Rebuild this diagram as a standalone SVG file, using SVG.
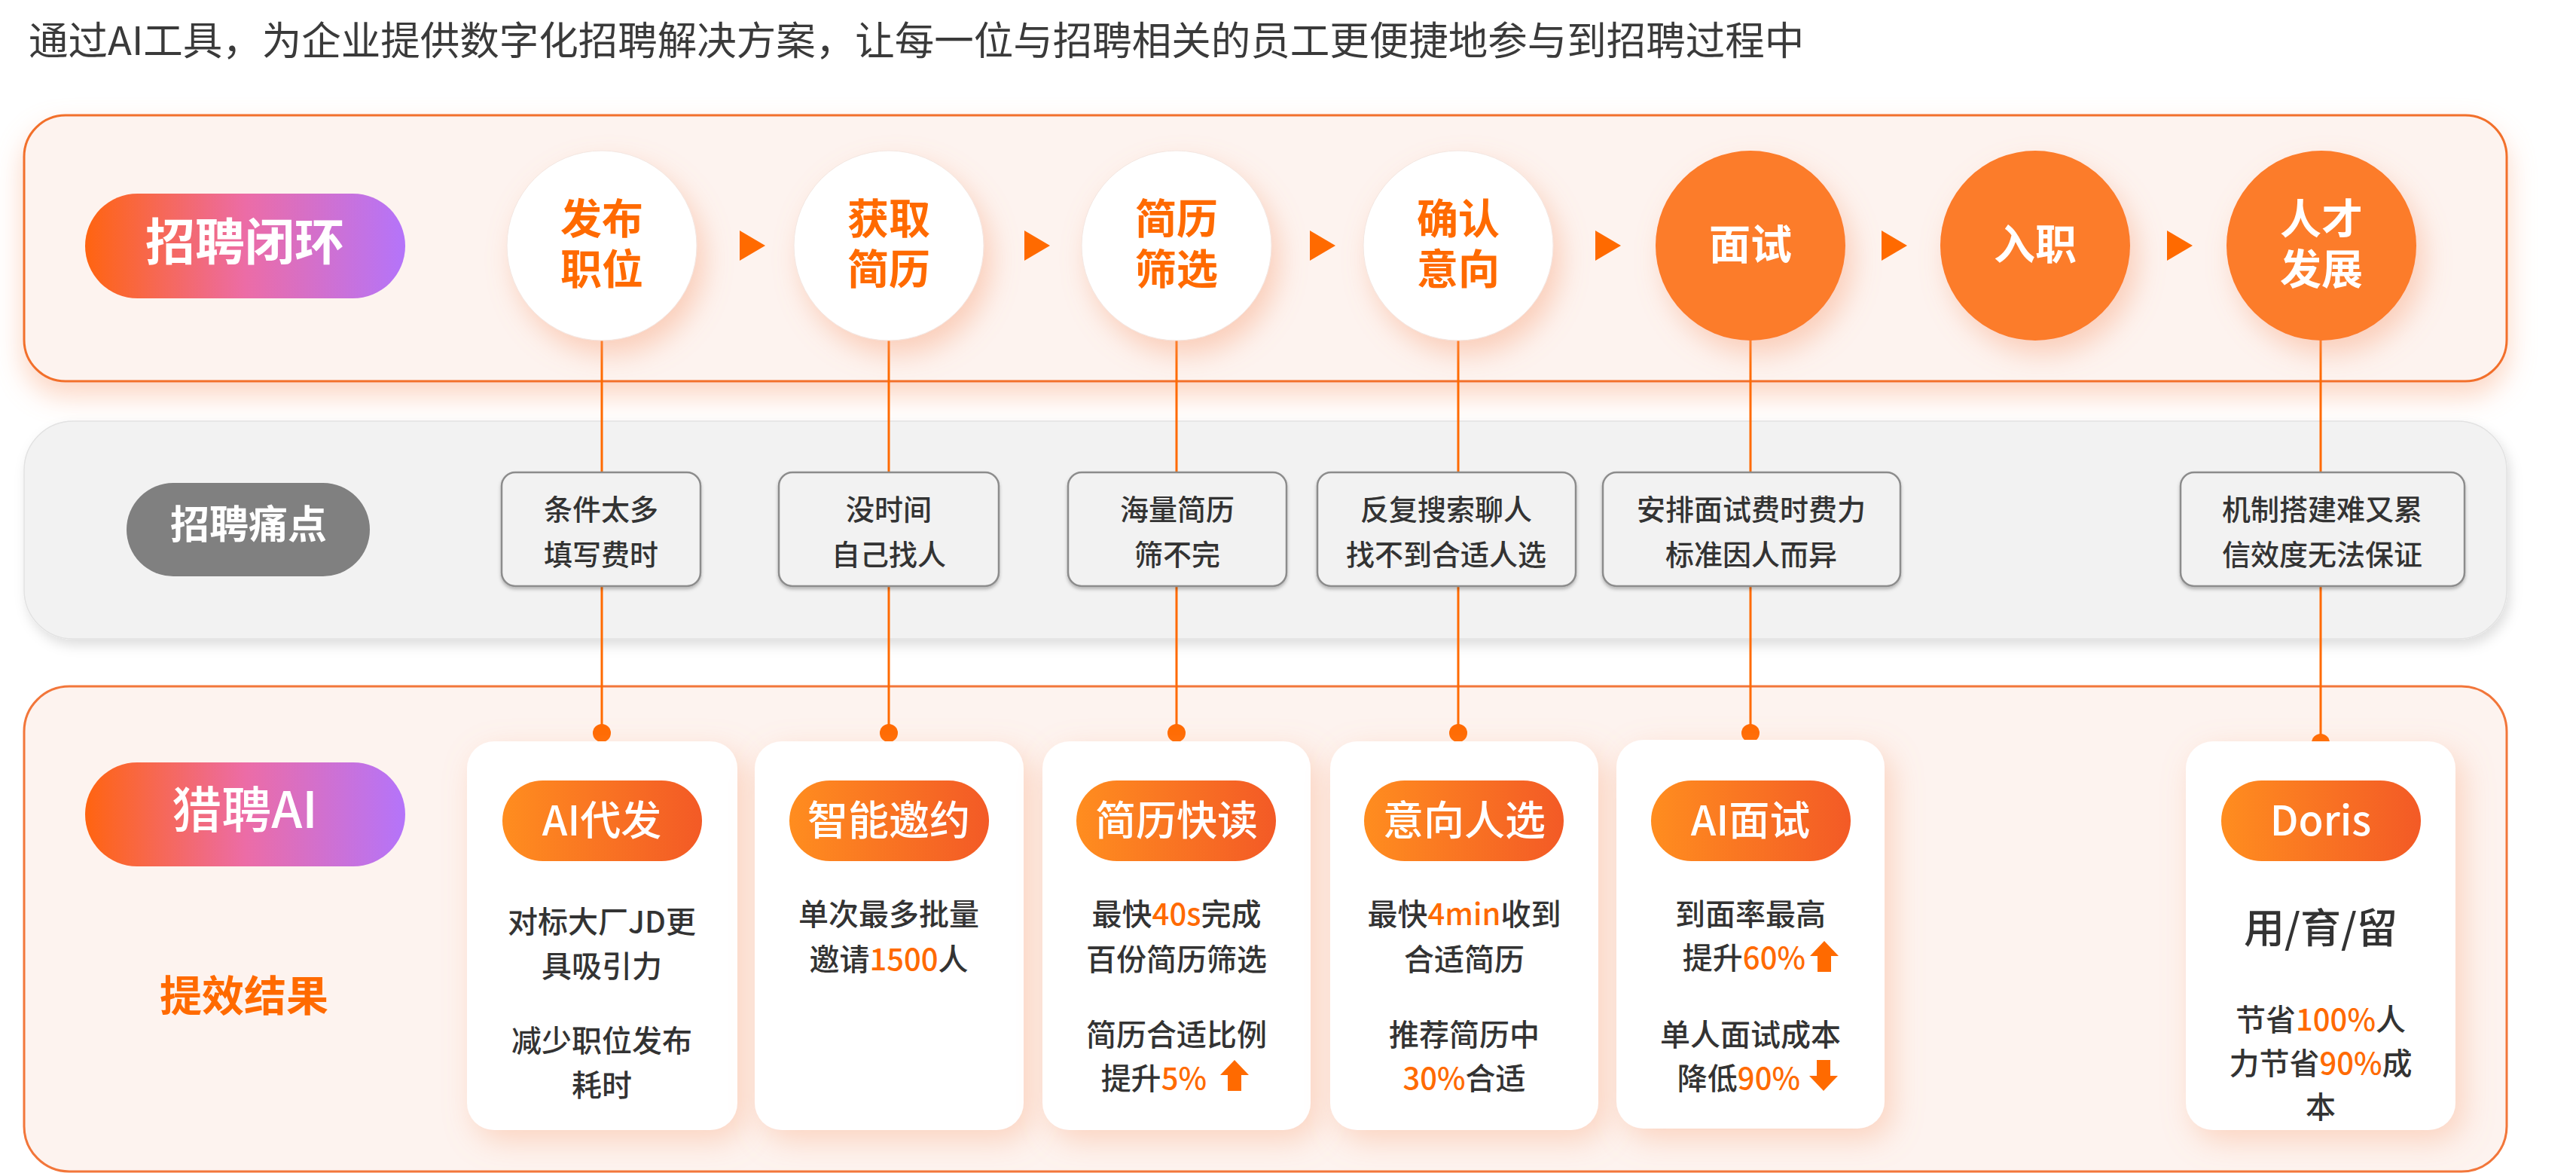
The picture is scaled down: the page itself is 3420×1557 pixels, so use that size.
<svg xmlns="http://www.w3.org/2000/svg" width="3420" height="1557" viewBox="0 0 3420 1557">
<defs>
<style>
text{font-family:"Noto Sans CJK SC","Noto Sans",sans-serif;}
.title{font-size:52.5px;fill:#3a3a3a;}
.ctext{font-size:55px;font-weight:700;text-anchor:middle;}
.o{fill:#ff6a00;}
.w{fill:#ffffff;}
.pain{font-size:38px;font-weight:500;fill:#333333;text-anchor:middle;}
.body{font-size:40px;font-weight:500;fill:#333333;text-anchor:middle;}
.end{text-anchor:end;}
.ptitle{font-size:54px;fill:#ffffff;text-anchor:middle;font-weight:500;}
.box{fill:#f2f2f2;stroke:#8c8c8c;stroke-width:2.5;}
.card{fill:#ffffff;}
.conn{stroke:#ff6a00;stroke-width:3;fill:none;}
.dot{fill:#ff6a00;}
.tri{fill:#ff6a00;}
.ocirc{fill:#fc7b2c;}
.wcirc{fill:#ffffff;stroke:#f3e6e0;stroke-width:1;}
.cardpill{fill:url(#gCard);}
</style>
<linearGradient id="gPill" x1="0" y1="0" x2="1" y2="0">
<stop offset="0" stop-color="#ff6410"/>
<stop offset="0.5" stop-color="#ec6ca6"/>
<stop offset="1" stop-color="#b474fa"/>
</linearGradient>
<linearGradient id="gCard" x1="0" y1="0" x2="1" y2="0">
<stop offset="0" stop-color="#ff8d1f"/>
<stop offset="1" stop-color="#f35a26"/>
</linearGradient>
<filter id="fPanel" x="-5%" y="-20%" width="110%" height="150%">
<feDropShadow dx="0" dy="18" stdDeviation="18" flood-color="#f9a57c" flood-opacity="0.45"/>
</filter>
<filter id="fGray" x="-5%" y="-20%" width="110%" height="150%">
<feDropShadow dx="4" dy="8" stdDeviation="8" flood-color="#000000" flood-opacity="0.13"/>
</filter>
<filter id="fCircle" x="-40%" y="-40%" width="190%" height="190%">
<feDropShadow dx="10" dy="18" stdDeviation="18" flood-color="#f8a278" flood-opacity="0.45"/>
</filter>
<filter id="fCard" x="-30%" y="-20%" width="170%" height="150%">
<feDropShadow dx="10" dy="14" stdDeviation="20" flood-color="#f8a278" flood-opacity="0.40"/>
</filter>
<filter id="fBox" x="-10%" y="-10%" width="120%" height="130%">
<feDropShadow dx="0" dy="3" stdDeviation="2" flood-color="#000000" flood-opacity="0.25"/>
</filter>
</defs>

<rect x="0" y="0" width="3420" height="1557" fill="#ffffff"/>

<g id="title">
<text class="title" x="38" y="73">通过AI工具，为企业提供数字化招聘解决方案，让每一位与招聘相关的员工更便捷地参与到招聘过程中</text>
</g>

<g id="panels">
<rect id="panel-top" x="32" y="153" width="3296" height="353" rx="55" fill="#fdf3ef" stroke="#f26f2c" stroke-width="3" filter="url(#fPanel)"/>
<rect id="panel-mid" x="32" y="559" width="3296" height="289" rx="65" fill="#f2f2f2" stroke="#e2e2e2" stroke-width="1.5" filter="url(#fGray)"/>
<rect id="panel-bottom" x="32" y="911" width="3296" height="644" rx="60" fill="#fdf3ef" stroke="#f2763a" stroke-width="3"/>
</g>

<g id="labels">
<g id="label-loop">
<rect x="113" y="257" width="425" height="139" rx="69.5" fill="url(#gPill)"/>
<text x="325" y="345" font-size="66" font-weight="700" fill="#ffffff" text-anchor="middle">招聘闭环</text>
</g>
<g id="label-pain">
<rect x="168" y="641" width="323" height="124" rx="62" fill="#808080"/>
<text x="330" y="715" font-size="52" font-weight="700" fill="#ffffff" text-anchor="middle">招聘痛点</text>
</g>
<g id="label-ai">
<rect x="113" y="1012" width="425" height="138" rx="69" fill="url(#gPill)"/>
<text x="325" y="1099" font-size="66" font-weight="500" fill="#ffffff" text-anchor="middle">猎聘AI</text>
</g>
<g id="label-result">
<text x="324" y="1342" font-size="56" font-weight="700" fill="#ff6a00" text-anchor="middle">提效结果</text>
</g>
</g>

<g id="connectors">
<line class="conn" x1="799" y1="440" x2="799" y2="973"/>
<line class="conn" x1="1180" y1="440" x2="1180" y2="973"/>
<line class="conn" x1="1562" y1="440" x2="1562" y2="973"/>
<line class="conn" x1="1936" y1="440" x2="1936" y2="973"/>
<line class="conn" x1="2324" y1="440" x2="2324" y2="973"/>
<line class="conn" x1="3081" y1="440" x2="3081" y2="984"/>
<polygon class="tri" points="982,306 1016,326 982,346"/>
<polygon class="tri" points="1360,306 1394,326 1360,346"/>
<polygon class="tri" points="1739,306 1773,326 1739,346"/>
<polygon class="tri" points="2118,306 2152,326 2118,346"/>
<polygon class="tri" points="2498,306 2532,326 2498,346"/>
<polygon class="tri" points="2877,306 2911,326 2877,346"/>
<circle class="dot" cx="799" cy="973" r="12"/>
<circle class="dot" cx="1180" cy="973" r="12"/>
<circle class="dot" cx="1562" cy="973" r="12"/>
<circle class="dot" cx="1936" cy="973" r="12"/>
<circle class="dot" cx="2324" cy="973" r="12"/>
<circle class="dot" cx="3081" cy="986" r="12"/>
</g>

<g id="step-1">
<circle class="wcirc" cx="799" cy="326" r="126" filter="url(#fCircle)"/>
<text class="ctext o" x="799" y="310">发布<tspan x="799" dy="67">职位</tspan></text>
</g>
<g id="step-2">
<circle class="wcirc" cx="1180" cy="326" r="126" filter="url(#fCircle)"/>
<text class="ctext o" x="1180" y="310">获取<tspan x="1180" dy="67">简历</tspan></text>
</g>
<g id="step-3">
<circle class="wcirc" cx="1562" cy="326" r="126" filter="url(#fCircle)"/>
<text class="ctext o" x="1562" y="310">简历<tspan x="1562" dy="67">筛选</tspan></text>
</g>
<g id="step-4">
<circle class="wcirc" cx="1936" cy="326" r="126" filter="url(#fCircle)"/>
<text class="ctext o" x="1936" y="310">确认<tspan x="1936" dy="67">意向</tspan></text>
</g>
<g id="step-5">
<circle class="ocirc" cx="2324" cy="326" r="126" filter="url(#fCircle)"/>
<text class="ctext w" x="2324" y="344" font-weight="500">面试</text>
</g>
<g id="step-6">
<circle class="ocirc" cx="2702" cy="326" r="126" filter="url(#fCircle)"/>
<text class="ctext w" x="2702" y="344" font-weight="500">入职</text>
</g>
<g id="step-7">
<circle class="ocirc" cx="3082" cy="326" r="126" filter="url(#fCircle)"/>
<text class="ctext w" x="3082" y="310" font-weight="500">人才<tspan x="3082" dy="67">发展</tspan></text>
</g>

<g id="pain-1">
<rect class="box" x="666" y="627" width="264" height="151" rx="18" filter="url(#fBox)"/>
<text class="pain" x="798" y="690">条件太多</text>
<text class="pain" x="798" y="750">填写费时</text>
</g>
<g id="pain-2">
<rect class="box" x="1034" y="627" width="292" height="151" rx="18" filter="url(#fBox)"/>
<text class="pain" x="1180" y="690">没时间</text>
<text class="pain" x="1180" y="750">自己找人</text>
</g>
<g id="pain-3">
<rect class="box" x="1418" y="627" width="290" height="151" rx="18" filter="url(#fBox)"/>
<text class="pain" x="1563" y="690">海量简历</text>
<text class="pain" x="1563" y="750">筛不完</text>
</g>
<g id="pain-4">
<rect class="box" x="1749" y="627" width="343" height="151" rx="18" filter="url(#fBox)"/>
<text class="pain" x="1920" y="690">反复搜索聊人</text>
<text class="pain" x="1920" y="750">找不到合适人选</text>
</g>
<g id="pain-5">
<rect class="box" x="2128" y="627" width="395" height="151" rx="18" filter="url(#fBox)"/>
<text class="pain" x="2325" y="690">安排面试费时费力</text>
<text class="pain" x="2325" y="750">标准因人而异</text>
</g>
<g id="pain-6">
<rect class="box" x="2895" y="627" width="377" height="151" rx="18" filter="url(#fBox)"/>
<text class="pain" x="3083" y="690">机制搭建难又累</text>
<text class="pain" x="3083" y="750">信效度无法保证</text>
</g>

<g id="card-1">
<rect class="card" x="620" y="984" width="359" height="516" rx="36" filter="url(#fCard)"/>
<rect class="cardpill" x="667" y="1036" width="265" height="107" rx="53.5"/>
<text class="ptitle" x="799" y="1109">AI代发</text>
<text class="body" x="799" y="1238">对标大厂JD更</text>
<text class="body" x="799" y="1297">具吸引力</text>
<text class="body" x="799" y="1396">减少职位发布</text>
<text class="body" x="799" y="1455">耗时</text>
</g>
<g id="card-2">
<rect class="card" x="1002" y="984" width="357" height="516" rx="36" filter="url(#fCard)"/>
<rect class="cardpill" x="1048" y="1036" width="265" height="107" rx="53.5"/>
<text class="ptitle" x="1180" y="1109">智能邀约</text>
<text class="body" x="1180" y="1228">单次最多批量</text>
<text class="body" x="1180" y="1288">邀请<tspan class="o">1500</tspan>人</text>
</g>
<g id="card-3">
<rect class="card" x="1384" y="984" width="356" height="516" rx="36" filter="url(#fCard)"/>
<rect class="cardpill" x="1429" y="1036" width="265" height="107" rx="53.5"/>
<text class="ptitle" x="1562" y="1109">简历快读</text>
<text class="body" x="1562" y="1228">最快<tspan class="o">40s</tspan>完成</text>
<text class="body" x="1562" y="1288">百份简历筛选</text>
<text class="body" x="1562" y="1388">简历合适比例</text>
<text class="body end" x="1602" y="1446">提升<tspan class="o">5%</tspan></text>
<path class="tri" d="M1620,1427 L1639,1407 L1658,1427 L1648,1427 L1648,1448 L1630,1448 L1630,1427 Z"/>
</g>
<g id="card-4">
<rect class="card" x="1766" y="984" width="356" height="516" rx="36" filter="url(#fCard)"/>
<rect class="cardpill" x="1811" y="1036" width="265" height="107" rx="53.5"/>
<text class="ptitle" x="1944" y="1109">意向人选</text>
<text class="body" x="1944" y="1228">最快<tspan class="o">4min</tspan>收到</text>
<text class="body" x="1944" y="1288">合适简历</text>
<text class="body" x="1944" y="1388">推荐简历中</text>
<text class="body" x="1944" y="1446"><tspan class="o">30%</tspan>合适</text>
</g>
<g id="card-5">
<rect class="card" x="2146" y="982" width="356" height="516" rx="36" filter="url(#fCard)"/>
<rect class="cardpill" x="2192" y="1036" width="265" height="107" rx="53.5"/>
<text class="ptitle" x="2324" y="1109">AI面试</text>
<text class="body" x="2324" y="1228">到面率最高</text>
<text class="body end" x="2397" y="1286">提升<tspan class="o">60%</tspan></text>
<path class="tri" d="M2403,1269 L2422,1249 L2441,1269 L2431,1269 L2431,1290 L2413,1290 L2413,1269 Z"/>
<text class="body" x="2324" y="1388">单人面试成本</text>
<text class="body end" x="2390" y="1446">降低<tspan class="o">90%</tspan></text>
<path class="tri" d="M2412,1407 L2430,1407 L2430,1428 L2440,1428 L2421,1448 L2402,1428 L2412,1428 Z"/>
</g>
<g id="card-6">
<rect class="card" x="2902" y="984" width="358" height="516" rx="36" filter="url(#fCard)"/>
<rect class="cardpill" x="2949" y="1036" width="265" height="107" rx="53.5"/>
<text class="ptitle" x="3081" y="1109">Doris</text>
<text x="3081" y="1252" font-size="54" font-weight="500" fill="#333333" text-anchor="middle">用/育/留</text>
<text class="body" x="3081" y="1368">节省<tspan class="o">100%</tspan>人</text>
<text class="body" x="3081" y="1426">力节省<tspan class="o">90%</tspan>成</text>
<text class="body" x="3081" y="1484">本</text>
</g>
</svg>
